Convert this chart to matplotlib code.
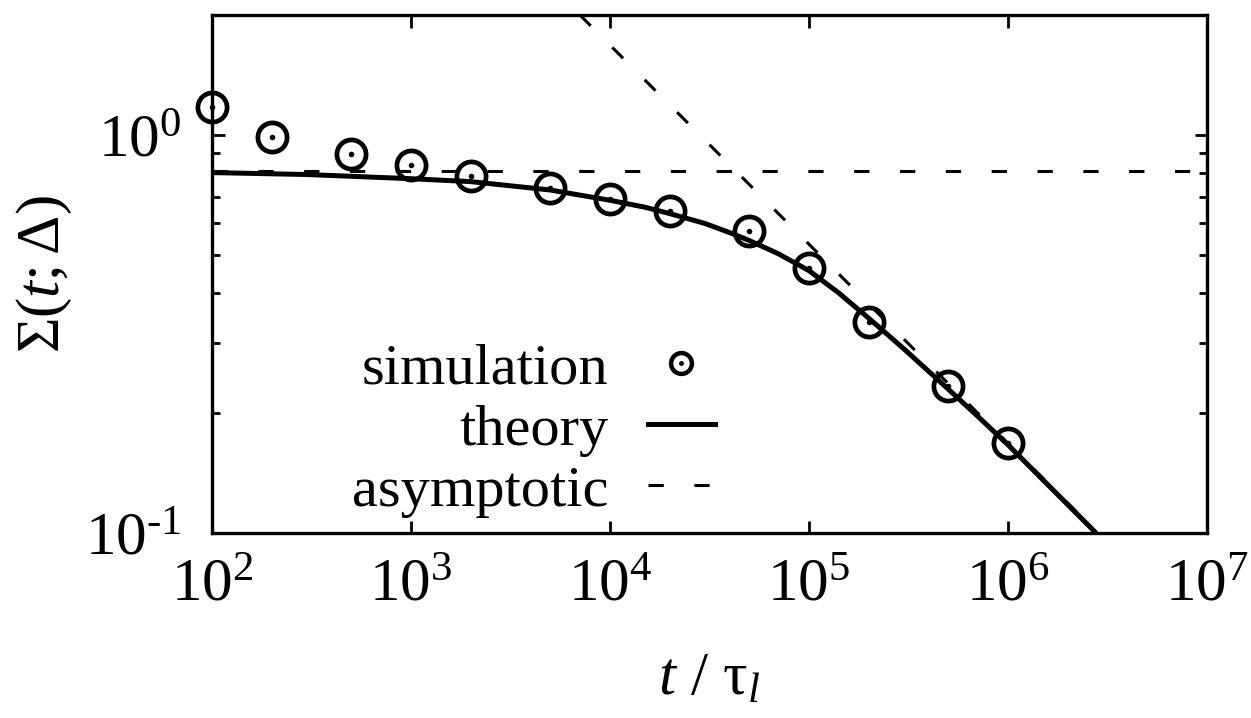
import matplotlib
matplotlib.use("Agg")
import matplotlib.pyplot as plt
from matplotlib.ticker import FixedLocator, LogLocator, NullFormatter, FixedFormatter
from matplotlib.lines import Line2D
from matplotlib.legend_handler import HandlerTuple

plt.rcParams['font.family'] = ['Liberation Serif', 'DejaVu Serif']
plt.rcParams['mathtext.fontset'] = 'custom'
plt.rcParams['mathtext.rm'] = 'Liberation Serif'
plt.rcParams['mathtext.it'] = 'Liberation Serif:italic'
plt.rcParams['mathtext.bf'] = 'Liberation Serif:bold'

# simulation points
sim_t = [1e2, 2e2, 5e2, 1e3, 2e3, 5e3, 1e4, 2e4, 5e4, 1e5, 2e5, 5e5, 1e6]
sim_sigma = [1.174, 0.990, 0.894, 0.839, 0.786, 0.737, 0.690, 0.645,
             0.575, 0.4625, 0.3396, 0.234, 0.1686]

# theory curve
theory_t = [1e2, 3e2, 1e3, 2e3, 5e3, 1e4, 1.5e4, 2e4, 3e4, 4e4, 5e4, 7e4,
            1e5, 1.4e5, 2e5, 3e5, 5e5, 7e5, 1e6, 2.77e6]
theory_sigma = [0.804, 0.795, 0.776, 0.763, 0.727, 0.685, 0.658, 0.634,
                0.599, 0.568, 0.543, 0.503, 0.456, 0.402, 0.346, 0.29,
                0.230, 0.197, 0.1665, 0.1]

# asymptotes
flat_t = [1e2, 1e7]
flat_sigma = [0.813, 0.813]
slope_t = [7.06e3, 1e7]
slope_sigma = [2.0, 0.0531]

xticks = [1e2, 1e3, 1e4, 1e5, 1e6, 1e7]
xticklabels = [r'$10^{2}$', r'$10^{3}$', r'$10^{4}$', r'$10^{5}$', r'$10^{6}$', r'$10^{7}$']
yticks = [0.1, 1.0]
yticklabels = [r'$10^{\text{-}1}$', r'$10^{0}$']

W, H = 1251, 718
fig = plt.figure(figsize=(W / 100, H / 100), dpi=100)
ax = fig.add_axes([212 / W, 1 - 533 / H, (1207 - 212) / W, (533 - 15) / H])

ax.set_xscale('log')
ax.set_yscale('log')

ax.plot(flat_t, flat_sigma, color='black', lw=2.2, dashes=(5, 10))
ax.plot(slope_t, slope_sigma, color='black', lw=2.2, dashes=(5, 10))
ax.plot(theory_t, theory_sigma, color='black', lw=3.6, solid_capstyle='butt')
ax.plot(sim_t, sim_sigma, ls='none', marker='o', ms=21, mfc='none',
        mec='black', mew=3.4, clip_on=False)
ax.plot(sim_t, sim_sigma, ls='none', marker='o', ms=4, mfc='black',
        mec='black', mew=0, clip_on=False)

ax.set_xlim(1e2, 1e7)
ax.set_ylim(0.1, 2.0)

ax.xaxis.set_major_locator(FixedLocator(xticks))
ax.xaxis.set_major_formatter(FixedFormatter(xticklabels))
ax.xaxis.set_minor_locator(LogLocator(base=10, subs=range(2, 10)))
ax.xaxis.set_minor_formatter(NullFormatter())
ax.yaxis.set_major_locator(FixedLocator(yticks))
ax.yaxis.set_major_formatter(FixedFormatter(yticklabels))
ax.yaxis.set_minor_locator(LogLocator(base=10, subs=range(2, 10)))
ax.yaxis.set_minor_formatter(NullFormatter())

ax.tick_params(which='both', direction='in', top=True, right=True,
               width=2.0, labelsize=44, color='black')
ax.tick_params(which='major', length=9)
ax.tick_params(which='minor', length=5.5)
ax.tick_params(axis='x', which='major', pad=18)
ax.tick_params(axis='y', which='major', pad=22)
for s in ax.spines.values():
    s.set_linewidth(2.4)

ax.set_xlabel(r'$t$ / $\mathrm{\tau}_{l}$', fontsize=44, labelpad=28)
ax.set_ylabel(r'$\Sigma(t;\Delta)$', fontsize=44, labelpad=8)

h_sim = (Line2D([], [], ls='none', marker='o', ms=15, mfc='none', mec='black', mew=3.2),
         Line2D([], [], ls='none', marker='o', ms=3.5, mfc='black', mec='black', mew=0))
h_th = Line2D([], [], color='black', lw=3.6)
h_as = Line2D([], [], color='black', lw=2.2, dashes=(5, 10))
leg = ax.legend([h_sim, h_th, h_as], ['simulation', 'theory', 'asymptotic'],
                handler_map={tuple: HandlerTuple(ndivide=1, pad=0)},
                loc='upper right', bbox_to_anchor=(715 / W, 1 - 343 / H),
                bbox_transform=fig.transFigure, frameon=False, markerfirst=False,
                fontsize=42, handlelength=1.15, handletextpad=0.68,
                labelspacing=0.14, borderpad=0, borderaxespad=0)

fig.savefig('out.png', dpi=100)
